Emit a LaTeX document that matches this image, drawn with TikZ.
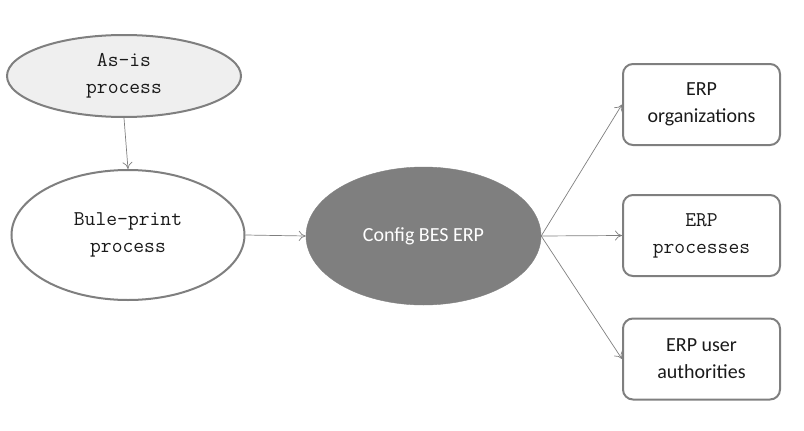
\documentclass[tikz,border=0pt]{standalone}
\usepackage{fontspec}
\setmainfont{Carlito}
\usetikzlibrary{shapes.geometric,arrows.meta}
\definecolor{edge}{HTML}{7F7F7F}
\definecolor{lightfill}{HTML}{EFEFEF}
\definecolor{txt}{HTML}{1A1A1A}
\tikzset{
  ell/.style={ellipse, draw=edge, line width=2pt, inner sep=0pt, text=txt, align=center},
  monotext/.style={font=\ttfamily\fontsize{21}{27}\selectfont},
  sanstext/.style={font=\fontsize{20}{27}\selectfont},
  rbox/.style={draw=edge, line width=2pt, rounded corners=10pt, minimum width=157pt, minimum height=81pt, align=center, text=txt, inner sep=0pt},
  conn/.style={draw=edge, line width=0.7pt, -{To[length=7pt,width=10pt]}}
}
\begin{document}
\begin{tikzpicture}[x=1pt,y=-1pt]
\useasboundingbox (0,0) rectangle (804,431);
\node[ell, monotext, fill=lightfill, minimum width=234pt, minimum height=82pt] (asis) at (124,76) {As-is\\process};
\node[ell, monotext, fill=white, minimum width=233pt, minimum height=130pt] (blue) at (128,235) {Bule-print\\process};
\node[ellipse, fill=edge, draw=edge, sanstext, text=white, minimum width=235pt, minimum height=138pt, inner sep=0pt] (cfg) at (423.5,236) {Config BES ERP};
\node[rbox, sanstext] (org) at (701.5,104.5) {ERP\\organizations};
\node[rbox, monotext] (proc) at (701.5,235.5) {ERP\\processes};
\node[rbox, sanstext] (auth) at (701.5,359) {ERP user\\authorities};
\draw[conn] (asis.south) -- (blue.north);
\draw[conn] (blue.east) -- (cfg.west);
\coordinate (c) at (cfg.east);
\draw[conn] (c) -- (org.west);
\draw[conn] (c) -- (proc.west);
\draw[conn] (c) -- (auth.west);
\end{tikzpicture}
\end{document}
